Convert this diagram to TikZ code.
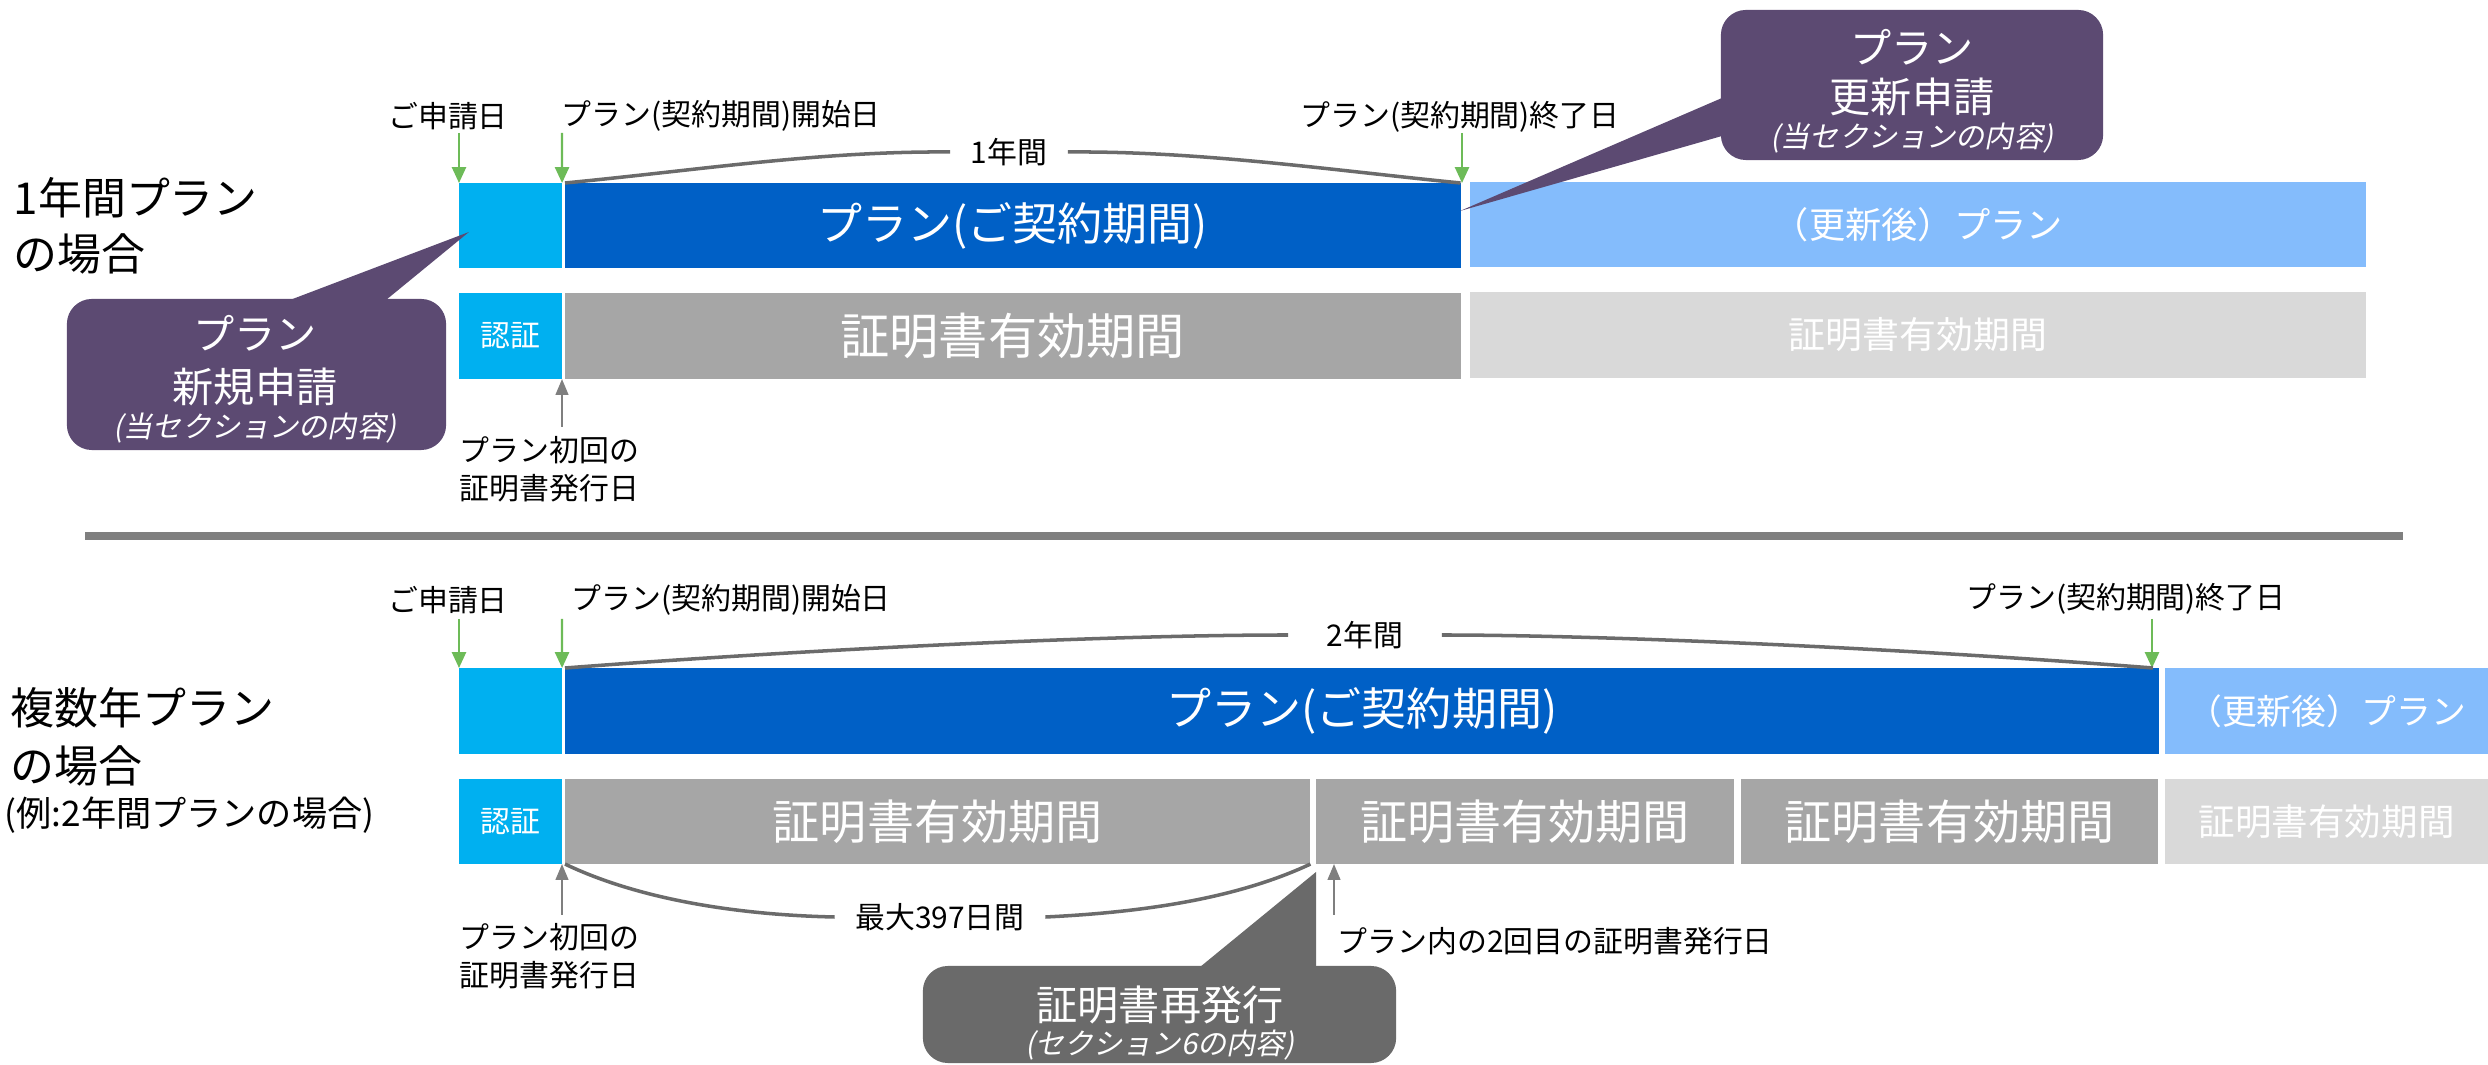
\documentclass[tikz,border=0pt]{standalone}
\usepackage{fontspec}
\setmainfont{Noto Sans CJK JP}
\newfontfamily\slantfont{Noto Sans CJK JP}[FakeSlant=0.2]
\usepackage{tikz}
\usetikzlibrary{arrows.meta}

\definecolor{reqcyan}{HTML}{00B0F0}
\definecolor{plandark}{HTML}{0060C6}
\definecolor{planlight}{HTML}{84BCFC}
\definecolor{certgray}{HTML}{A6A6A6}
\definecolor{certlight}{HTML}{D9D9D9}
\definecolor{callpurple}{HTML}{5C4A72}
\definecolor{callgray}{HTML}{6A6A6A}
\definecolor{markgreen}{HTML}{6DBB58}
\definecolor{markgray}{HTML}{7F7F7F}
\definecolor{spangray}{HTML}{6B6B6B}

\tikzset{
  bar/.style={rectangle, anchor=north west, inner sep=0pt, outer sep=0pt, text=white},
  lbl/.style={inner sep=0pt, font=\fontsize{8.5pt}{10.8pt}\selectfont},
  title/.style={inner sep=0pt, anchor=west, font=\fontsize{12.5pt}{15pt}\selectfont},
  calltext/.style={inner sep=0pt, text=white, font=\fontsize{11.7pt}{14pt}\selectfont},
  callnote/.style={inner sep=0pt, text=white, font=\fontsize{8.3pt}{10pt}\slantfont},
  callbox/.style={rectangle, rounded corners=0.25cm, inner sep=0pt},
  garrow/.style={draw=markgreen, line width=0.6pt, -{Triangle[width=4pt,length=4.5pt]}},
  grayarrow/.style={draw=markgray, line width=0.6pt, -{Triangle[width=3.6pt,length=4.5pt]}},
  span/.style={draw=spangray, line width=1pt},
}

\begin{document}
\begin{tikzpicture}[x=0.01cm,y=-0.01cm]
\useasboundingbox (0,0) rectangle (2488,1065);

% 1-year plan
\node[title] (t1a) at (13,198) {1年間プラン};
\node[title] (t1b) at (13,254) {の場合};

\node[bar, fill=reqcyan, minimum width=1.03cm, minimum height=0.85cm] (req1) at (459,183) {};
\node[bar, fill=plandark, minimum width=8.95cm, minimum height=0.85cm, font=\fontsize{12.8pt}{15pt}\selectfont] (plan1) at (565,183) {プラン(ご契約期間)};
\node[bar, fill=planlight, minimum width=8.95cm, minimum height=0.85cm, font=\fontsize{10.3pt}{12pt}\selectfont] (renew1) at (1470,182) {（更新後）プラン};
\node[bar, fill=reqcyan, minimum width=1.03cm, minimum height=0.86cm, font=\fontsize{8.5pt}{10pt}\selectfont] (auth1) at (459,293) {認証};
\node[bar, fill=certgray, minimum width=8.95cm, minimum height=0.86cm, font=\fontsize{14pt}{16pt}\selectfont] (cert1) at (565,293) {証明書有効期間};
\node[bar, fill=certlight, minimum width=8.95cm, minimum height=0.86cm, font=\fontsize{10.5pt}{12pt}\selectfont] (cert1b) at (1470,292) {証明書有効期間};

\node[lbl] (apply1) at (448,116) {ご申請日};
\node[lbl, anchor=west] (start1) at (561,116) {プラン(契約期間)開始日};
\node[lbl] (end1) at (1460,117) {プラン(契約期間)終了日};
\coordinate (ga1) at (459,133);
\coordinate (ga2) at (562,133);
\coordinate (ga3) at (1462,133);
\draw[garrow] (ga1) -- (req1.north west);
\draw[garrow] (ga2) -- (req1.north east);
\draw[garrow] (ga3) -- (ga3 |- plan1.north);

\node[lbl, inner sep=0.2cm] (year1) at (1009,152) {1年間};
\draw[span] (plan1.north west) .. controls (700,170) and (820,151) .. (year1.west);
\draw[span] (year1.east) .. controls (1200,151) and (1330,170) .. (plan1.north east);

\node[lbl, align=left, anchor=west] (first1) at (459,469) {プラン初回の\\証明書発行日};
\coordinate (ka1) at (562,427);
\draw[grayarrow] (ka1) -- (ka1 |- auth1.south);

\node[callbox, fill=callpurple, minimum width=3.79cm, minimum height=1.51cm] (new1) at (256.5,374.5) {};
\fill[callpurple] (290,300) -- (469,232) -- (386,300) -- cycle;
\node[calltext] (new1a) at (255,333) {プラン};
\node[calltext] (new1b) at (255,387) {新規申請};
\node[callnote] (new1c) at (255,428) {(当セクションの内容)};

\node[callbox, fill=callpurple, minimum width=3.82cm, minimum height=1.5cm] (upd1) at (1912,85) {};
\fill[callpurple] (1722,98) -- (1460,211) -- (1722,136) -- cycle;
\node[calltext] (upd1a) at (1912,47) {プラン};
\node[calltext] (upd1b) at (1912,97) {更新申請};
\node[callnote] (upd1c) at (1912,138) {(当セクションの内容)};

% separator
\draw[draw=markgray, line width=2pt] (85,536) -- (2403,536);

% multi-year plan
\node[title] (t2a) at (10,708) {複数年プラン};
\node[title] (t2b) at (10,766) {の場合};
\node[title, font=\fontsize{10pt}{12pt}\selectfont] (t2c) at (4,815) {(例:2年間プランの場合)};

\node[bar, fill=reqcyan, minimum width=1.03cm, minimum height=0.86cm] (req2) at (459,668) {};
\node[bar, fill=plandark, minimum width=15.93cm, minimum height=0.86cm, font=\fontsize{12.8pt}{15pt}\selectfont] (plan2) at (565,668) {プラン(ご契約期間)};
\node[bar, fill=planlight, minimum width=3.23cm, minimum height=0.86cm, font=\fontsize{9.9pt}{12pt}\selectfont] (renew2) at (2165,668) {（更新後）プラン};
\node[bar, fill=reqcyan, minimum width=1.03cm, minimum height=0.85cm, font=\fontsize{8.5pt}{10pt}\selectfont] (auth2) at (459,779) {認証};
\node[bar, fill=certgray, minimum width=7.45cm, minimum height=0.85cm, font=\fontsize{13.4pt}{16pt}\selectfont] (cert2a) at (565,779) {証明書有効期間};
\node[bar, fill=certgray, minimum width=4.18cm, minimum height=0.85cm, font=\fontsize{13.4pt}{16pt}\selectfont] (cert2b) at (1316,779) {証明書有効期間};
\node[bar, fill=certgray, minimum width=4.17cm, minimum height=0.85cm, font=\fontsize{13.4pt}{16pt}\selectfont] (cert2c) at (1741,779) {証明書有効期間};
\node[bar, fill=certlight, minimum width=3.23cm, minimum height=0.85cm, font=\fontsize{10.4pt}{12pt}\selectfont] (cert2d) at (2165,779) {証明書有効期間};

\node[lbl] (apply2) at (448,600) {ご申請日};
\node[lbl, anchor=west] (start2) at (571,600) {プラン(契約期間)開始日};
\node[lbl] (end2) at (2126,599) {プラン(契約期間)終了日};
\coordinate (gb1) at (459,619);
\coordinate (gb2) at (562,619);
\coordinate (gb3) at (2152,619);
\draw[garrow] (gb1) -- (req2.north west);
\draw[garrow] (gb2) -- (req2.north east);
\draw[garrow] (gb3) -- (gb3 |- plan2.north);

\node[lbl, inner sep=0.38cm] (year2) at (1365,635) {2年間};
\draw[span] (plan2.north west) .. controls (800,650) and (1100,635) .. (year2.west);
\draw[span] (year2.east) .. controls (1600,635) and (1900,648) .. ([xshift=-0.06cm]plan2.north east);

\node[lbl, align=left, anchor=west] (first2) at (459,956) {プラン初回の\\証明書発行日};
\coordinate (kb1) at (562,915);
\draw[grayarrow] (kb1) -- (kb1 |- auth2.south);
\node[lbl, anchor=west] (second2) at (1337,941) {プラン内の2回目の証明書発行日};
\coordinate (kb2) at (1334,915);
\draw[grayarrow] (kb2) -- (kb2 |- cert2b.south);

\node[lbl, inner sep=0.2cm] (max2) at (940,917) {最大397日間};
\draw[span] (cert2a.south west) .. controls (640,900) and (740,915) .. (max2.west);
\draw[span] (max2.east) .. controls (1150,912) and (1240,897) .. (cert2a.south east);

\node[callbox, fill=callgray, minimum width=4.73cm, minimum height=0.97cm] (reiss2) at (1159.5,1014.5) {};
\fill[callgray] (1200,967) -- (1316,872) -- (1316,967) -- cycle;
\node[calltext] (reiss2a) at (1160,1005) {証明書再発行};
\node[callnote] (reiss2b) at (1160,1045) {(セクション6の内容)};
\end{tikzpicture}
\end{document}
